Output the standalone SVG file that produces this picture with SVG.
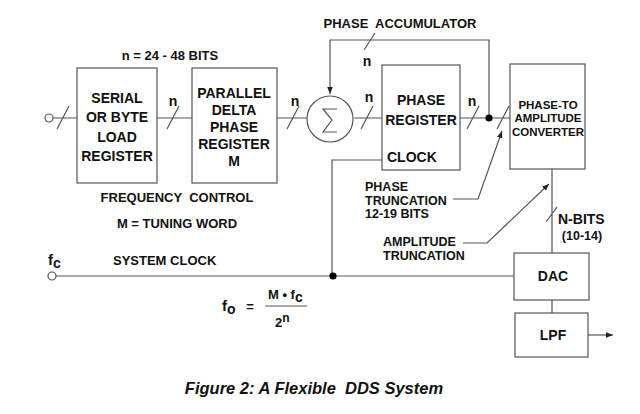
<svg xmlns="http://www.w3.org/2000/svg" width="640" height="414" viewBox="0 0 640 414">
<defs>
<style>
.b{fill:#fff;stroke:#555;stroke-width:1.2}
.l{fill:none;stroke:#555;stroke-width:1.2}
.t{font-family:"Liberation Sans",Arial,sans-serif;font-weight:bold;font-size:13px;fill:#111;text-anchor:middle}
.k{font-size:14px}
.s{font-size:11.5px}
.r{font-size:12.5px}
.st{text-anchor:start}
.sub{font-size:14px}
</style>
<marker id="ah" viewBox="0 0 10 10" refX="10" refY="5" markerWidth="7" markerHeight="7" markerUnits="userSpaceOnUse" orient="auto"><path d="M0,1 L10,5 L0,9 Z" fill="#222"/></marker>
</defs>
<rect width="640" height="414" fill="#fff"/>
<g id="connectors">
<circle cx="49" cy="118" r="4" class="l"/>
<path class="l" d="M53,118 H77 M57,129 L69,106"/>
<path class="l" d="M157,118 H192 M167,129 L179,106"/>
<path class="l" d="M277,118 H307 M287,129 L299,106"/>
<path class="l" d="M354,118 H382 M361,129 L373,106"/>
<path class="l" d="M460,118 H510 M467,129 L479,106 M497,129 L509,106"/>
<path class="l" d="M489,118 V40 H330 V94" marker-end="url(#ah)"/>
<path class="l" d="M364,50 L375,33"/>
<circle cx="489" cy="118" r="3.6" fill="#000"/>
<path class="l" d="M382,160 H332 V276"/>
<circle cx="52" cy="276" r="4" class="l"/>
<path class="l" d="M56,276 H514"/>
<circle cx="333" cy="276" r="3.6" fill="#000"/>
<path class="l" d="M552,169 V253 M546,222 L557,207"/>
<path class="l" d="M552,300 V313"/>
<path class="l" d="M588,335 H613" marker-end="url(#ah)"/>
<path class="l" d="M453,199 H478 L502,131" marker-end="url(#ah)"/>
<path class="l" d="M463,243 H487 L549,184" marker-end="url(#ah)"/>
</g>
<g id="serial">
<rect class="b" x="77" y="68" width="80" height="115"/>
<text class="t k" x="117" y="103">SERIAL</text>
<text class="t k" x="117" y="122">OR BYTE</text>
<text class="t k" x="117" y="142">LOAD</text>
<text class="t k" x="117" y="161">REGISTER</text>
</g>
<g id="delta">
<rect class="b" x="192" y="68" width="85" height="115"/>
<text class="t k" x="234" y="98">PARALLEL</text>
<text class="t k" x="234" y="115">DELTA</text>
<text class="t k" x="234" y="132">PHASE</text>
<text class="t k" x="234" y="149">REGISTER</text>
<text class="t k" x="234" y="166">M</text>
</g>
<g id="sigma">
<circle class="b" cx="330" cy="119" r="23"/>
<path class="l" d="M337,109 H323 L332,120 L323,132 H337"/>
</g>
<g id="phasereg">
<rect class="b" x="382" y="65" width="78" height="105"/>
<text class="t k" x="421" y="105">PHASE</text>
<text class="t k" x="421" y="125">REGISTER</text>
<text class="t k st" x="387" y="162">CLOCK</text>
</g>
<g id="p2a">
<rect class="b" x="510" y="64" width="75" height="105"/>
<text class="t s" x="548" y="109">PHASE-TO</text>
<text class="t s" x="548" y="122">AMPLITUDE</text>
<text class="t s" x="548" y="136">CONVERTER</text>
</g>
<g id="dac">
<rect class="b" x="514" y="253" width="75" height="47"/>
<text class="t k" x="553" y="281">DAC</text>
</g>
<g id="lpf">
<rect class="b" x="515" y="313" width="73" height="44"/>
<text class="t k" x="553" y="340">LPF</text>
</g>
<g id="labels">
<text class="t" x="170" y="60">n = 24 - 48 BITS</text>
<text class="t k" x="173" y="106">n</text>
<text class="t k" x="295" y="106">n</text>
<text class="t k" x="369" y="102">n</text>
<text class="t k" x="472" y="106">n</text>
<text class="t k" x="367" y="66">n</text>
<text class="t" x="400" y="28" xml:space="preserve">PHASE  ACCUMULATOR</text>
<text class="t r st" x="365" y="191">PHASE</text>
<text class="t r st" x="365" y="204.5">TRUNCATION</text>
<text class="t r st" x="365" y="218">12-19 BITS</text>
<text class="t r st" x="383" y="246">AMPLITUDE</text>
<text class="t r st" x="383" y="259.5">TRUNCATION</text>
<text class="t k st" x="558" y="224">N-BITS</text>
<text class="t r" x="582" y="240">(10-14)</text>
<text class="t" x="177" y="202" xml:space="preserve">FREQUENCY  CONTROL</text>
<text class="t" x="177" y="228">M = TUNING WORD</text>
<text class="t st" x="113" y="265">SYSTEM CLOCK</text>
<text class="t st" x="48" y="265" style="font-size:15px">f<tspan class="sub" dy="3">c</tspan></text>
<text class="t st" x="222" y="311" style="font-size:15px">f<tspan class="sub" dy="3">o</tspan></text>
<text class="t" x="250" y="311">=</text>
<path class="l" d="M265,306 H307"/>
<text class="t st" x="268" y="299">M • f<tspan class="sub" dy="3">c</tspan></text>
<text class="t st" x="275" y="327">2<tspan dy="-5" style="font-size:12px">n</tspan></text>
<text class="t" x="314" y="394" style="font-size:16.5px;font-style:italic" xml:space="preserve">Figure 2: A Flexible  DDS System</text>
</g>
</svg>
